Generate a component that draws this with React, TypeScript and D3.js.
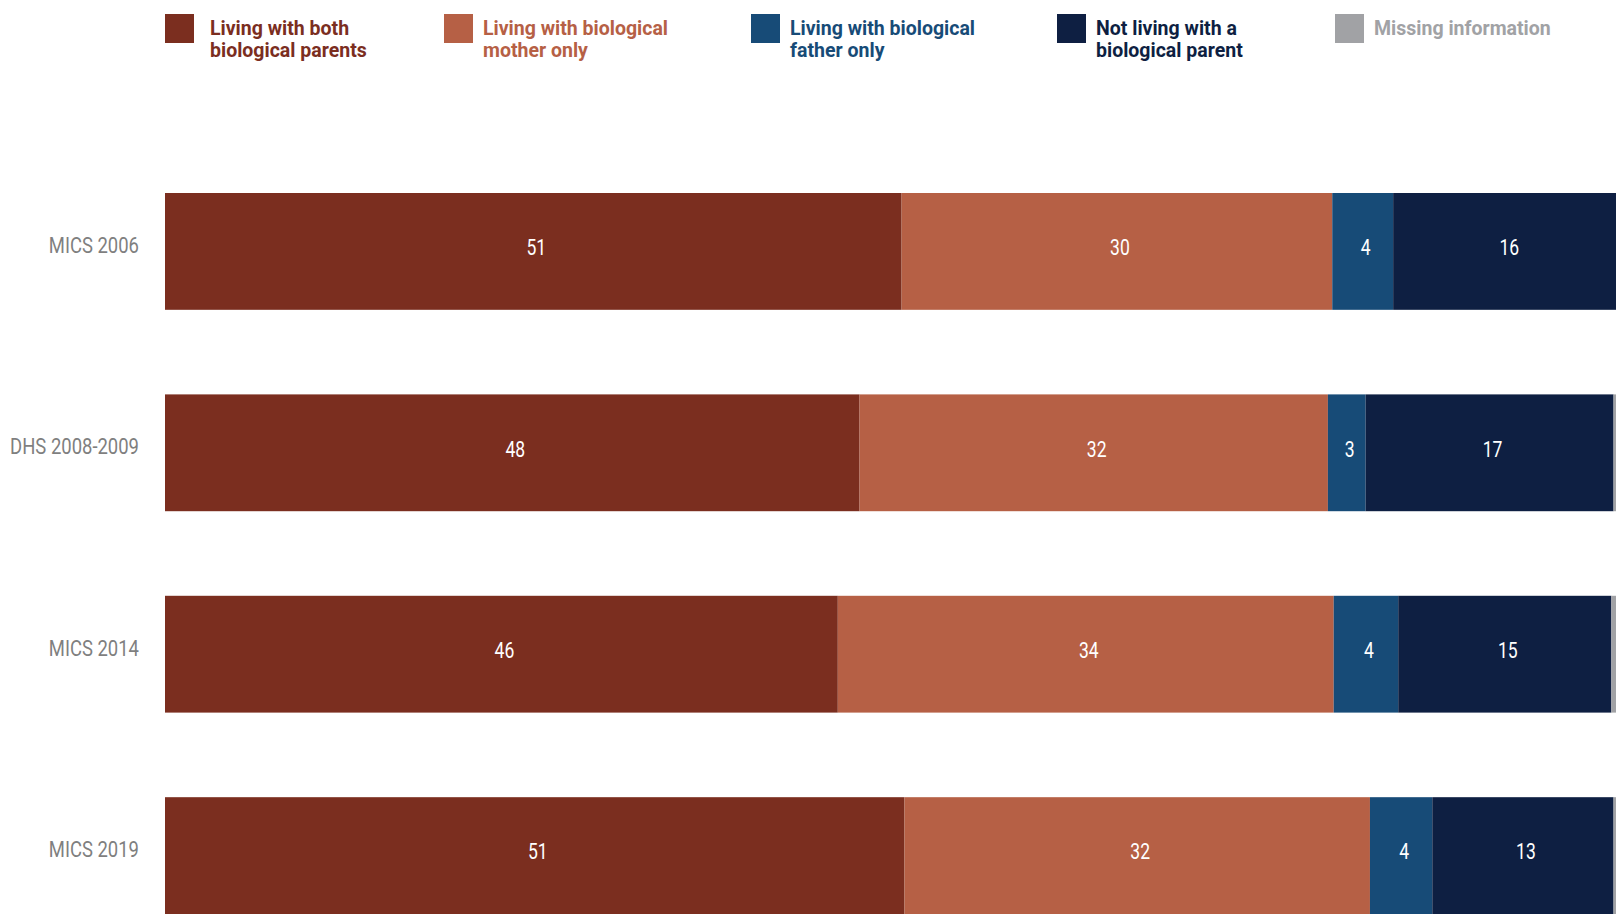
import React from "react";
import * as d3 from "d3";

const categories = ["MICS 2006", "DHS 2008-2009", "MICS 2014", "MICS 2019"];
const seriesNames = [
  "Living with both biological parents",
  "Living with biological mother only",
  "Living with biological father only",
  "Not living with a biological parent",
  "Missing information",
];
const legendLines = [
  ["Living with both", "biological parents"],
  ["Living with biological", "mother only"],
  ["Living with biological", "father only"],
  ["Not living with a", "biological parent"],
  ["Missing information"],
];
const bothParents = [50.8, 47.9, 46.4, 51.0];
const motherOnly = [29.7, 32.3, 34.2, 32.1];
const fatherOnly = [4.2, 2.6, 4.45, 4.3];
const noParent = [15.6, 17.1, 14.7, 12.5];
const missing = [0.1, 0.4, 0.5, 0.4];
const labelBoth = [51, 48, 46, 51];
const labelMother = [30, 32, 34, 32];
const labelFather = [4, 3, 4, 4];
const labelNone = [16, 17, 15, 13];

const colors = ["#7B2E1F", "#B66045", "#174B77", "#0E1F42", "#A1A2A5"];
const FONT = "Roboto, 'Liberation Sans', sans-serif";

export default function App() {
  const W = 1616, H = 914;
  const seriesValues = [bothParents, motherOnly, fatherOnly, noParent, missing];
  const seriesLabels = [labelBoth, labelMother, labelFather, labelNone, null];
  const rows = categories.map((c, i) => {
    const o: any = { cat: c };
    seriesNames.forEach((s, j) => (o[s] = seriesValues[j][i]));
    return o;
  });
  const stack = d3.stack<any>().keys(seriesNames)(rows);
  const x = d3.scaleLinear().domain([0, 100]).range([165, 1615]);
  const y = d3.scaleBand().domain(categories).range([193, 914]).paddingInner(0.42).paddingOuter(0);
  const bw = y.bandwidth();
  const legendX = [165, 444, 751, 1057, 1335];
  const legendGap = [45, 39, 39, 39, 39];

  return (
    <svg width={W} height={H} style={{ position: "absolute", left: 0, top: 0, overflow: "hidden", background: "#fff" }} fontFamily={FONT}>
      {legendX.map((lx, i) => (
        <g key={i}>
          <rect x={lx} y={14} width={29} height={29} fill={colors[i]} />
          {legendLines[i].map((ln, k) => (
            <g key={k} transform={`translate(${lx + legendGap[i]},${35 + k * 21.5}) scale(0.93,1)`}>
              <text x={0} y={0} fontSize={21} fontWeight="bold" fill={colors[i]}>{ln}</text>
            </g>
          ))}
        </g>
      ))}
      {stack.map((layer, j) => (
        <g key={j} fill={colors[j]}>
          {layer.map((d, i) => (
            <rect key={i} x={x(d[0])} y={y(categories[i])} width={x(d[1]) - x(d[0])} height={bw} />
          ))}
        </g>
      ))}
      {stack.map((layer, j) =>
        seriesLabels[j]
          ? layer.map((d, i) => (
              <g key={`${j}-${i}`} transform={`translate(${(x(d[0]) + x(d[1])) / 2 + 3},${(y(categories[i]) as number) + bw / 2 - 4}) scale(0.78,1)`}>
                <text x={0} y={0} textAnchor="middle" dominantBaseline="central" fontSize={22.5} fill="#fff">
                  {seriesLabels[j]![i]}
                </text>
              </g>
            ))
          : null
      )}
      {categories.map((c) => (
        <g key={c} transform={`translate(139,${(y(c) as number) + bw / 2 - 6}) scale(0.84,1)`}>
          <text x={0} y={0} textAnchor="end" dominantBaseline="central" fontSize={22} fill="#7F7F7F">
            {c}
          </text>
        </g>
      ))}
    </svg>
  );
}
